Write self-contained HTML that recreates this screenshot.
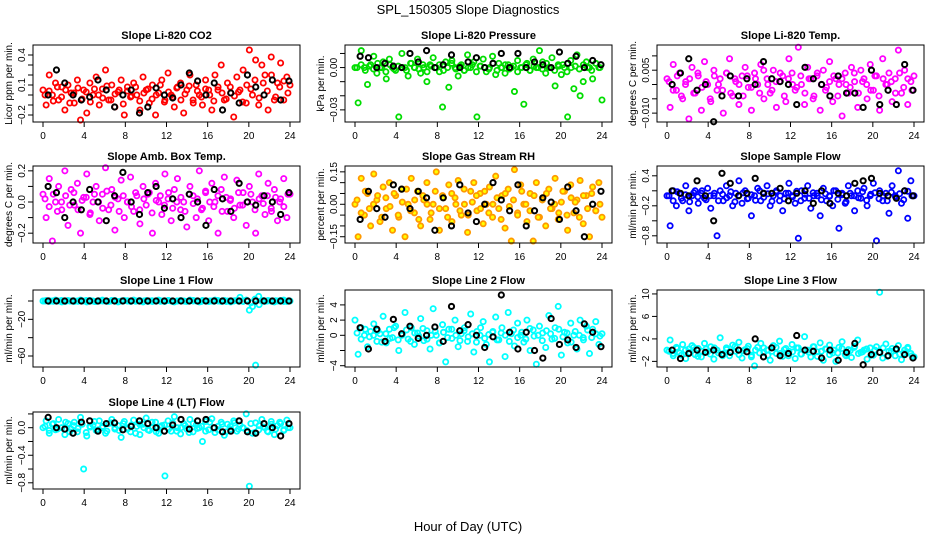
<!DOCTYPE html>
<html><head><meta charset="utf-8"><style>
html,body{margin:0;padding:0;background:#fff;}
svg{display:block;font-family:"Liberation Sans",sans-serif;}
</style></head><body>
<svg id="chart" width="936" height="540" viewBox="0 0 936 540">
<rect x="0" y="0" width="936" height="540" fill="#fff"/>
<text x="468" y="14" text-anchor="middle" font-size="13">SPL_150305  Slope Diagnostics</text>
<text x="468" y="531" text-anchor="middle" font-size="13">Hour of Day (UTC)</text>
</svg>
<script>
const xTicks = [0,4,8,12,16,20,24];
const co2 = [0.05,-0.1,0.2,0.0,0.12,-0.05,0.08,-0.15,0.1,0.02,-0.08,0.15,-0.25,0.05,-0.18,0.12,0.0,0.18,-0.1,0.06,0.25,-0.05,0.1,-0.12,0.03,0.15,-0.2,0.08,-0.02,0.12,0.0,-0.15,0.18,0.05,-0.08,0.1,-0.2,0.02,0.15,-0.05,0.22,0.0,-0.12,0.08,0.12,-0.18,0.05,0.2,-0.05,0.1,0.0,-0.1,0.15,0.05,-0.15,0.2,0.08,0.3,-0.05,0.12,0.02,-0.22,0.18,0.05,0.25,-0.08,0.45,0.0,0.35,-0.1,0.3,0.2,-0.15,0.38,-0.05,0.12,0.32,-0.05,0.18,0.1];
const co2Core = [0.0,0.04,-0.06,0.08,-0.02,0.05,-0.08,0.02,0.07,-0.04,0.03,-0.07,0.06,0.0,-0.03,0.09,-0.05,0.01,0.05,-0.09,0.04,-0.01,0.08,-0.06,0.02,0.06,-0.04,0.0,0.1,-0.07,0.03,-0.02,0.07,-0.05,0.01,0.09,-0.08,0.04,-0.02,0.06,0.0,-0.06,0.05,0.02,-0.04,0.08,-0.01,0.03,-0.07,0.1,0.06,0.15,-0.03,0.12,0.04,0.2,-0.02,0.08,0.14,0.02];
const co2Black = [0.0,0.25,0.12,0.0,-0.05,-0.02,0.15,0.05,-0.12,0.0,0.05,-0.18,-0.12,0.07,0.0,-0.03,0.1,0.22,0.14,0.0,0.12,-0.15,0.02,-0.08,0.2,0.08,0.0,0.15,-0.05,0.14];
const pres = [0.0,-0.025,0.012,0.0,-0.012,0.002,0.008,-0.004,0.0,0.004,-0.008,0.006,0.0,-0.002,-0.035,0.01,0.0,-0.006,0.003,0.0,0.006,-0.004,0.0,-0.01,0.002,0.007,0.0,-0.003,-0.028,0.004,-0.014,0.005,0.0,-0.006,0.002,-0.002,0.009,0.0,0.004,-0.035,0.001,0.006,-0.003,0.0,0.008,-0.005,0.003,0.0,-0.004,0.002,0.0,-0.017,0.005,0.0,-0.026,0.003,-0.002,0.006,0.0,0.012,0.004,-0.004,0.0,0.007,-0.013,0.002,-0.005,0.0,-0.035,0.005,-0.015,0.009,-0.02,-0.01,0.004,0.0,-0.008,0.003,0.0,-0.023];
const presCore = [0.0,0.002,-0.002,0.001,-0.001,0.003,0.0,-0.003,0.002,-0.001,0.001,0.0,-0.002,0.003,0.0,-0.001,0.002,-0.003,0.001,0.0,0.002,-0.002,0.0,0.003,-0.001,0.001,-0.002,0.0,0.002,-0.003,0.001,0.0,-0.001,0.003,-0.002,0.0,0.002,-0.001,0.001,-0.003,0.0,0.002,-0.002,0.001,0.0,-0.001,0.003,0.0,-0.002,0.001,0.002,-0.003,0.0,0.001,-0.001,0.002,0.0,-0.002,0.003,0.0];
const presBlack = [0.008,0.007,0.0,0.003,0.001,0.0,0.01,0.004,0.012,0.0,0.002,0.009,0.0,0.004,0.007,0.0,0.003,0.01,0.0,0.01,0.0,0.004,0.002,0.0,0.011,0.003,0.008,0.0,0.005,0.002];
const temp = [0.002,-0.008,0.007,-0.002,0.004,-0.005,0.001,-0.012,0.006,-0.003,0.003,-0.009,0.008,0.0,-0.006,0.005,-0.002,0.002,-0.01,0.004,0.009,-0.004,0.001,-0.007,0.003,0.006,-0.001,-0.009,0.004,0.0,0.007,-0.005,0.002,-0.003,0.005,-0.008,0.001,0.003,-0.006,0.009,0.004,-0.002,0.013,0.0,-0.007,0.006,0.002,-0.004,0.003,-0.009,0.005,-0.001,0.008,-0.006,0.002,0.0,-0.011,0.004,-0.003,0.006,0.001,-0.008,0.005,0.002,-0.005,0.007,-0.002,0.003,-0.009,0.009,0.0,0.004,-0.006,0.002,0.012,-0.003,0.005,-0.007,0.001,0.003];
const tempCore = [0.001,-0.002,0.003,-0.004,0.0,0.002,-0.003,0.004,-0.001,0.001,-0.005,0.003,0.0,-0.002,0.004,-0.003,0.002,0.0,-0.004,0.003,-0.001,0.002,-0.003,0.005,0.0,-0.002,0.001,0.004,-0.004,0.002,0.0,-0.001,0.003,-0.003,0.002,-0.005,0.004,0.0,-0.002,0.001,0.003,-0.004,0.002,0.0,-0.001,0.004,-0.003,0.001,0.0,-0.002,0.003,-0.004,0.002,0.0,0.001,-0.003,0.004,-0.001,0.002,-0.002];
const tempBlack = [0.0,0.004,0.009,-0.002,0.0,-0.013,-0.004,0.003,-0.004,0.002,0.0,0.008,0.002,0.001,0.0,-0.007,0.006,0.002,0.0,-0.004,0.003,-0.003,-0.003,-0.008,0.005,-0.007,-0.002,-0.007,0.007,-0.002];
const amb = [0.05,-0.1,0.15,-0.25,0.0,0.1,-0.05,0.2,-0.15,0.08,-0.02,0.12,-0.2,0.03,0.18,-0.08,0.0,0.1,-0.12,0.05,0.22,-0.05,0.08,-0.18,0.02,0.14,-0.1,0.0,0.16,-0.06,0.04,-0.14,0.1,-0.02,0.06,-0.2,0.12,0.0,-0.08,0.18,0.02,-0.12,0.08,0.15,-0.05,0.0,-0.16,0.1,0.04,-0.1,0.2,-0.04,0.06,-0.12,0.12,0.0,-0.2,0.08,0.16,-0.06,0.02,-0.1,0.14,-0.02,0.06,-0.15,0.1,0.0,-0.2,0.18,0.04,-0.08,0.12,-0.04,0.08,-0.12,0.02,0.15,-0.1,0.05];
const ambCore = [0.02,-0.03,0.05,-0.06,0.0,0.04,-0.02,0.06,-0.05,0.01,0.03,-0.07,0.05,0.0,-0.04,0.07,-0.02,0.03,-0.06,0.04,0.0,-0.03,0.06,-0.05,0.02,0.05,-0.07,0.01,0.04,-0.02,0.06,-0.04,0.0,0.03,-0.06,0.05,-0.01,0.02,-0.05,0.07,0.0,-0.03,0.04,-0.06,0.03,0.01,-0.04,0.06,-0.02,0.0,0.05,-0.05,0.02,-0.01,0.04,-0.06,0.03,0.0,-0.03,0.05];
const ambBlack = [0.1,0.06,-0.1,0.0,-0.05,0.08,0.0,-0.12,0.04,0.19,0.0,-0.08,0.06,0.1,-0.04,0.02,-0.1,0.05,0.0,-0.15,0.08,0.02,-0.06,0.12,0.0,-0.02,0.04,0.0,-0.08,0.06];
const rh = [0.0,-0.15,0.12,-0.05,0.05,-0.1,0.14,0.02,-0.08,0.08,-0.02,0.1,-0.12,0.04,-0.06,0.07,-0.15,0.0,0.12,-0.04,0.06,-0.1,0.02,0.1,-0.07,0.0,0.15,-0.12,0.04,-0.02,0.09,-0.08,0.03,0.11,-0.05,0.0,-0.13,0.06,0.1,-0.03,0.05,-0.09,0.0,0.08,-0.06,0.13,-0.02,0.04,-0.11,0.07,-0.17,0.16,-0.04,0.09,0.0,-0.08,0.05,-0.17,0.1,-0.06,0.03,-0.1,0.07,-0.02,0.12,-0.07,0.01,0.06,-0.12,0.09,-0.04,0.02,0.11,-0.09,0.04,-0.15,0.08,-0.03,0.1,-0.06];
const rhCore = [0.02,-0.04,0.06,-0.02,0.0,0.04,-0.06,0.03,-0.01,0.05,-0.05,0.01,0.07,-0.03,0.02,-0.07,0.04,0.0,-0.04,0.06,-0.02,0.03,-0.06,0.05,0.0,-0.03,0.07,-0.05,0.01,0.04,-0.02,0.06,-0.04,0.0,0.03,-0.07,0.05,-0.01,0.02,-0.05,0.06,0.0,-0.03,0.04,-0.06,0.02,0.05,-0.02,0.0,-0.04,0.06,-0.05,0.03,0.01,-0.06,0.04,-0.02,0.05,-0.03,0.0];
const rhBlack = [-0.07,0.06,-0.02,-0.06,0.09,0.07,-0.02,0.06,0.03,-0.12,0.03,-0.1,0.09,-0.04,-0.08,0.0,0.1,0.02,-0.03,0.09,-0.1,-0.03,0.03,0.01,-0.07,0.08,-0.03,-0.15,0.0,0.06];
const flow = [0.0,-0.6,0.1,-0.2,0.05,-0.1,0.2,-0.3,0.0,0.1,-0.15,0.05,-0.05,0.15,-0.25,0.0,-0.8,0.1,-0.1,0.2,0.0,-0.2,0.05,0.3,-0.15,0.1,-0.05,-0.4,0.0,0.15,-0.1,0.05,0.2,-0.2,0.0,0.1,-0.1,-0.3,0.05,0.25,0.0,-0.15,-0.85,0.1,-0.05,0.2,-0.25,0.0,0.05,-0.4,0.15,-0.1,0.0,-0.2,0.1,-0.65,0.05,-0.15,0.2,0.0,-0.3,0.1,-0.05,0.15,-0.2,0.0,0.25,-0.9,0.1,-0.1,0.05,-0.35,0.2,0.0,0.5,-0.15,0.1,-0.45,0.3,0.0];
const flowCore = [0.0,-0.1,0.08,-0.05,0.02,-0.12,0.06,-0.02,0.1,-0.08,0.0,0.05,-0.1,0.03,-0.04,0.08,-0.12,0.01,0.06,-0.06,0.02,-0.09,0.1,-0.03,0.04,-0.11,0.07,0.0,-0.06,0.05,-0.02,0.09,-0.1,0.03,-0.05,0.06,0.0,-0.08,0.04,-0.01,0.1,-0.07,0.02,-0.12,0.05,0.0,-0.04,0.08,-0.09,0.03,0.06,-0.06,0.0,-0.1,0.07,-0.02,0.04,-0.08,0.09,0.0];
const flowBlack = [0.1,0.05,0.0,0.3,0.0,-0.5,0.45,0.25,0.0,0.05,0.35,0.05,0.05,0.15,-0.1,0.05,0.1,-0.15,0.1,-0.15,0.05,0.0,0.25,0.3,0.35,0.05,0.0,-0.05,0.1,0.0];
const line1 = [0,0.5,-0.5,0,1,0,-1,0,0.5,0,-0.5,0,1,0,-1,0.5,0,-0.5,0,1,0,-0.5,0.5,0,-1,0,0.5,0,-0.5,1,0,0,-1,0.5,0,-0.5,0,1,0,-0.5,0.5,0,-1,0,0.5,0,-0.5,1,0,0,-1,0.5,0,-0.5,0,1,0,-0.5,0.5,0,-1,0,0.5,4,-0.5,1,-10,-6,-70,5,0,-0.5,0.5,0,-1,0,0.5,1,-0.5,0];
const line1Core = [0,0.3,-0.3,0,0.5,-0.5,0,0.3,-0.3,0,0.5,0,-0.5,0.3,0,-0.3,0,0.5,-0.5,0,0.3,0,-0.3,0.5,0,-0.5,0.3,0,-0.3,0,0.5,-0.5,0,0.3,-0.3,0,0.5,0,-0.5,0.3,0,-0.3,0.5,0,-0.5,0,0.3,-0.3,0,0.5,-2,2,-4,0.5,0,-0.3,0.3,0,-0.5,0];
const line1Black = [0,0,0,0,0,0,0,0,0,0,0,0,0,0,0,0,0,0,0,0,0,0,0,0,0,0,0,0,0,0];
const line2 = [2.0,-2.5,1.0,0.0,-1.5,0.5,1.5,-0.8,0.2,2.5,-1.0,0.8,-0.3,1.2,-2.0,0.0,3.0,-0.5,1.0,-1.2,0.3,2.2,-0.7,0.6,-1.8,3.5,0.0,-1.0,1.4,-3.5,0.8,-0.4,2.0,-1.5,0.2,1.0,-0.8,2.8,-2.2,0.5,0.0,1.8,-1.2,-3.5,0.4,2.4,-0.6,1.0,-2.8,3.0,0.2,-1.4,1.6,0.0,-0.9,2.0,-2.0,0.7,-3.8,1.2,0.3,-1.6,2.6,-0.5,1.0,3.8,-2.6,0.4,-1.0,1.6,0.0,-1.8,2.0,-0.3,1.2,-2.4,0.8,1.8,-1.2,0.2];
const line2Core = [0.3,-0.5,0.8,-0.2,0.0,0.6,-0.9,0.2,-0.4,1.0,-0.6,0.1,0.7,-0.8,0.3,-0.1,0.9,-0.5,0.0,0.5,-1.0,0.4,-0.3,0.8,0.0,-0.7,0.6,-0.2,0.2,-0.9,1.0,-0.4,0.1,0.5,-0.6,0.3,0.0,-0.8,0.7,-0.3,0.4,-0.5,0.9,-0.1,0.0,-0.7,0.6,0.2,-0.4,0.8,-0.2,0.3,-0.9,0.5,0.0,-0.6,0.7,-0.3,0.2,-0.1];
const line2Black = [1.0,-1.8,0.8,-0.8,2.1,0.2,1.2,-0.4,0.0,1.1,-0.8,3.8,0.6,1.4,0.0,-1.6,-0.2,5.3,0.4,-1.8,0.4,-2.0,-3.0,2.2,-1.2,-0.6,-1.6,1.5,0.4,-1.5];
const line3 = [0.0,1.8,-1.0,0.5,-0.5,1.0,-1.5,0.2,0.8,-0.8,0.3,-1.2,1.2,-0.3,0.6,-1.6,0.0,2.2,-0.6,0.4,-1.0,0.9,-0.2,1.4,-1.4,0.1,0.7,-0.9,-2.8,0.5,1.2,-0.4,0.0,-1.8,0.8,-0.6,1.6,-1.1,0.3,-0.2,1.0,-1.5,0.4,-0.7,2.4,0.0,-1.2,0.6,-0.3,1.3,-1.8,0.2,0.9,-0.5,-2.0,0.5,1.5,-0.8,0.1,-1.3,0.7,1.8,-0.4,0.0,-1.6,0.4,-0.9,0.6,10.3,-1.4,1.1,-0.2,0.3,-1.0,0.8,-1.7,0.0,0.5,-0.6,-1.2];
const line3Core = [-0.2,-0.6,0.3,-0.9,0.0,-0.4,0.5,-1.1,-0.2,0.2,-0.7,0.4,-0.5,-1.0,0.1,-0.3,0.6,-0.8,-0.1,0.3,-1.2,0.0,-0.5,0.4,-0.9,-0.2,0.5,-0.6,0.1,-1.0,-0.3,0.4,-0.7,0.0,-0.4,0.6,-1.1,-0.2,0.2,-0.8,0.0,-0.5,0.3,-1.0,-0.1,0.5,-0.6,-0.3,0.2,-0.9,0.0,-0.4,0.4,-1.1,-0.2,0.1,-0.7,-0.5,0.3,-1.0];
const line3Black = [0.0,-1.5,-0.6,0.0,-0.4,0.0,-0.8,-0.4,0.0,-0.3,2.0,-1.2,0.4,-1.0,-0.6,2.6,0.0,-0.2,-1.4,0.0,-1.8,-0.4,1.2,-2.6,-0.8,-0.4,-1.0,0.2,-0.8,-1.4];
const line4 = [0.0,0.1,-0.08,0.05,-0.03,0.12,0.0,-0.1,0.06,-0.02,0.08,-0.06,0.15,-0.6,-0.12,0.02,0.04,-0.04,0.1,0.0,-0.08,0.06,0.12,-0.02,0.03,-0.14,0.09,0.0,-0.06,0.11,0.02,-0.1,0.05,0.14,-0.04,0.0,0.08,-0.08,0.03,-0.7,0.1,-0.05,0.16,0.0,-0.09,0.06,-0.02,0.12,-0.06,0.04,0.0,-0.2,0.09,-0.03,0.13,-0.07,0.02,0.08,-0.11,0.05,-0.02,0.1,-0.05,0.04,0.0,0.2,-0.85,-0.08,0.07,-0.03,0.12,0.0,-0.06,0.09,-0.1,0.03,0.06,-0.04,0.11,0.0];
const line4Core = [0.02,-0.04,0.06,-0.02,0.0,0.08,-0.06,0.03,-0.01,0.05,-0.07,0.01,0.09,-0.03,0.02,-0.05,0.07,0.0,-0.04,0.06,-0.02,0.04,-0.08,0.05,0.0,-0.03,0.08,-0.06,0.01,0.04,-0.02,0.07,-0.05,0.0,0.03,-0.07,0.06,-0.01,0.02,-0.05,0.08,0.0,-0.03,0.05,-0.06,0.02,0.07,-0.02,0.0,-0.04,0.06,-0.07,0.03,0.01,-0.05,0.05,-0.02,0.08,-0.03,0.0];
const line4Black = [0.15,0.0,-0.02,-0.08,0.08,0.1,-0.05,0.06,0.07,-0.03,0.02,0.1,0.06,0.0,-0.05,0.04,0.12,-0.02,0.1,0.12,0.0,-0.06,-0.05,0.1,-0.06,-0.08,0.06,0.0,-0.12,0.06];

const panels = [
 {name:'co2',title:'Slope Li-820 CO2',ylab:'Licor ppm per min.',col:0,row:0,ymin:-0.27,ymax:0.5,ticks:[-0.2,-0.1,0,0.1,0.2,0.3,0.4],labels:{'-0.2':'−0.2','0.1':'0.1','0.4':'0.4'},c:co2,k:co2Core,b:co2Black,color:'#ff0000'},
 {name:'pressure',title:'Slope Li-820 Pressure',ylab:'kPa per min.',col:1,row:0,ymin:-0.0386,ymax:0.016,ticks:[-0.03,-0.02,-0.01,0,0.01],labels:{'-0.03':'−0.03','0':'0.00'},c:pres,k:presCore,b:presBlack,color:'#00dd00'},
 {name:'temp',title:'Slope Li-820 Temp.',ylab:'degrees C per min.',col:2,row:0,ymin:-0.0131,ymax:0.0138,ticks:[-0.01,-0.005,0,0.005,0.01],labels:{'-0.01':'−0.010','0.005':'0.005'},c:temp,k:tempCore,b:tempBlack,color:'#ff00ff'},
 {name:'amb-box-temp',title:'Slope Amb. Box Temp.',ylab:'degrees C per min.',col:0,row:1,ymin:-0.263,ymax:0.231,ticks:[-0.2,-0.1,0,0.1,0.2],labels:{'-0.2':'−0.2','0':'0.0','0.2':'0.2'},c:amb,k:ambCore,b:ambBlack,color:'#ff00ff'},
 {name:'gas-stream-rh',title:'Slope Gas Stream RH',ylab:'percent per min.',col:1,row:1,ymin:-0.179,ymax:0.177,ticks:[-0.15,-0.1,-0.05,0,0.05,0.1,0.15],labels:{'-0.15':'−0.15','0':'0.00','0.15':'0.15'},c:rh,k:rhCore,b:rhBlack,color:'#ff9900',fill:'#ffff00'},
 {name:'sample-flow',title:'Slope Sample Flow',ylab:'ml/min per min.',col:2,row:1,ymin:-0.944,ymax:0.596,ticks:[-0.8,-0.5,-0.2,0.1,0.4],labels:{'-0.8':'−0.8','-0.2':'−0.2','0.4':'0.4'},c:flow,k:flowCore,b:flowBlack,color:'#0000ff'},
 {name:'line1-flow',title:'Slope Line 1 Flow',ylab:'ml/min per min.',col:0,row:2,ymin:-72,ymax:12,ticks:[-60,-40,-20,0],labels:{'-60':'−60','-20':'−20'},c:line1,k:line1Core,b:line1Black,color:'#00ffff'},
 {name:'line2-flow',title:'Slope Line 2 Flow',ylab:'ml/min per min.',col:1,row:2,ymin:-4.17,ymax:5.96,ticks:[-4,-2,0,2,4],labels:{'-4':'−4','0':'0','2':'2','4':'4'},c:line2,k:line2Core,b:line2Black,color:'#00ffff'},
 {name:'line3-flow',title:'Slope Line 3 Flow',ylab:'ml/min per min.',col:2,row:2,ymin:-3,ymax:10.7,ticks:[-2,2,6,10],labels:{'-2':'−2','2':'2','6':'6','10':'10'},c:line3,k:line3Core,b:line3Black,color:'#00ffff'},
 {name:'line4-flow',title:'Slope Line 4 (LT) Flow',ylab:'ml/min per min.',col:0,row:3,ymin:-0.89,ymax:0.228,ticks:[-0.8,-0.6,-0.4,-0.2,0,0.2],labels:{'-0.8':'−0.8','-0.4':'−0.4','0':'0.0'},c:line4,k:line4Core,b:line4Black,color:'#00ffff'}
];

const NS='http://www.w3.org/2000/svg';
const svg=document.getElementById('chart');
function mk(tag,attrs,parent){const e=document.createElementNS(NS,tag);for(const k in attrs)e.setAttribute(k,attrs[k]);(parent||svg).appendChild(e);return e;}
const colX=[33,345,657], rowY=[45,166,290,412], W=267, H=77;

panels.forEach(p=>{
  const L=colX[p.col], T=rowY[p.row];
  const g=mk('g',{});
  
  
  const xs=h=>L+10+h/24*247;
  const ys=v=>T+H-(v-p.ymin)/(p.ymax-p.ymin)*H;
  const t=mk('text',{x:L+W/2,y:T-6,'text-anchor':'middle','font-size':'11','font-weight':'bold'},g);
  t.textContent=p.title;
  
  
  const yl=mk('text',{x:0,y:0,'text-anchor':'middle','font-size':'10',transform:`translate(${L-21},${T+H/2}) rotate(-90)`},g);
  yl.textContent=p.ylab;
  
  
  const pg=mk('g',{},g);
  
  
  const drawSeries=(arr,start,span)=>{
    const n=arr.length;
    arr.forEach((v,i)=>{
      const h=start+i*span/(n-1);
      const c=mk('circle',{cx:xs(h),cy:ys(v),r:2.6,fill:p.fill||'none',stroke:p.color,'stroke-width':1.8},pg);
      
      
    });
  };
  drawSeries(p.c,0,24);
  drawSeries(p.k,0.2,23.6);
  const bg=mk('g',{},g);
  
  
  const m=p.b.length;
  p.b.forEach((v,i)=>{
    const h=0.5+i*23.4/(m-1);
    const c=mk('circle',{cx:xs(h),cy:ys(v),r:2.6,fill:'none',stroke:'#000','stroke-width':2},bg);
    
    
  });
  const box=mk('rect',{x:L,y:T,width:W,height:H,fill:'none',stroke:'#000','stroke-width':1},g);
  
  
  xTicks.forEach(h=>{
    mk('line',{x1:xs(h),x2:xs(h),y1:T+H,y2:T+H+5,stroke:'#000'},g);
    const tx=mk('text',{x:xs(h),y:T+H+17,'text-anchor':'middle','font-size':'10'},g);
    tx.textContent=h;
    
    
  });
  p.ticks.forEach(v=>{
    mk('line',{x1:L,x2:L-5,y1:ys(v),y2:ys(v),stroke:'#000'},g);
    const lab=p.labels[String(v)];
    if(lab){
      const ty=mk('text',{x:0,y:0,'text-anchor':'middle','font-size':'10',transform:`translate(${L-8},${ys(v)}) rotate(-90)`},g);
      ty.textContent=lab;
      
      
    }
  });
});
</script>
</body></html>
